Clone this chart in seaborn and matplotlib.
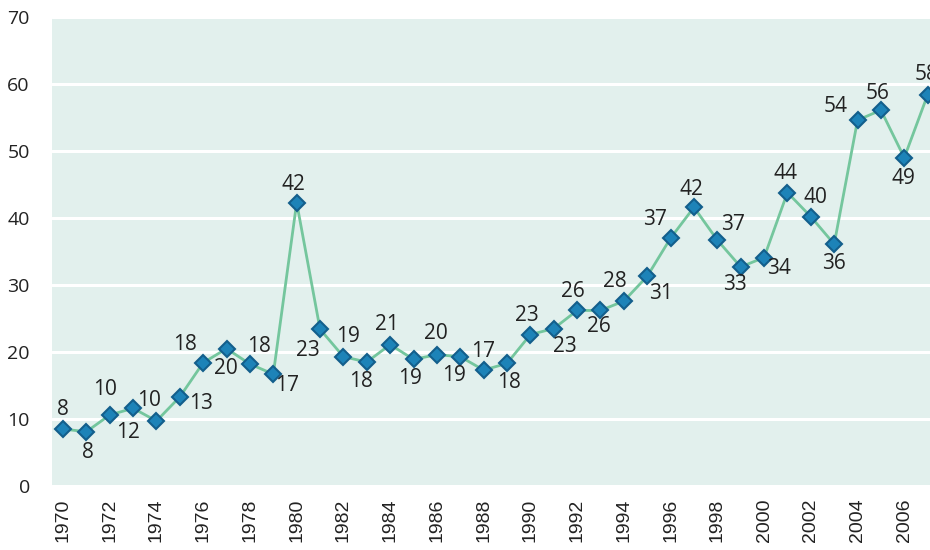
import numpy as np
import pandas as pd
import matplotlib
matplotlib.use("Agg")
import matplotlib.pyplot as plt
from matplotlib.font_manager import FontProperties
import seaborn as sns

# data
years = list(range(1970, 2008))
values = [8.5, 8.1, 10.6, 11.6, 9.7, 13.3, 18.4, 20.5, 18.2, 16.7,
          42.3, 23.4, 19.3, 18.5, 21.1, 18.9, 19.6, 19.3, 17.3, 18.3,
          22.6, 23.5, 26.2, 26.2, 27.6, 31.3, 37.0, 41.6, 36.7, 32.7,
          34.1, 43.8, 40.2, 36.1, 54.6, 56.1, 49.0, 58.4]
labels = [8, 8, 10, 12, 10, 13, 18, 20, 18, 17,
          42, 23, 19, 18, 21, 19, 20, 19, 17, 18,
          23, 23, 26, 26, 28, 31, 37, 42, 37, 33,
          34, 44, 40, 36, 54, 56, 49, 58]
tick_years = list(range(1970, 2007, 2))

# label offsets in pixels (dx, dy), style only
offsets = [(0, 20), (2, -21), (-5, 25), (-5, -24), (-7, 21), (21, -7),
           (-18, 18), (-1, -20), (9, 18), (14, -11), (-3, 18), (-12, -21),
           (5, 20), (-6, -19), (-3, 20), (-4, -19), (-1, 21), (-6, -19),
           (-1, 19), (2, -19), (-4, 19), (11, -18), (-4, 19), (-2, -16),
           (-9, 20), (14, -17), (-16, 19), (-3, 18), (16, 16), (-6, -18),
           (15, -11), (-2, 19), (5, 19), (0, -19), (-22, 14), (-3, 17),
           (-1, -21), (-1, 20)]

df = pd.DataFrame({"year": years, "value": values})

sns.set_theme(style="white")
plt.rcParams["font.family"] = ["Open Sans", "DejaVu Sans"]

fig = plt.figure(figsize=(9.3, 5.5), dpi=100)
ax = fig.add_axes([52 / 930, 64 / 550, 1 - 52 / 930, (486 - 17) / 550])
ax.set_facecolor("#e2f0ed")

sns.lineplot(data=df, x="year", y="value", ax=ax, color="#74c69d",
             linewidth=2, marker="D", markersize=8.5,
             markerfacecolor="#1d83b8", markeredgecolor="#135f8c",
             markeredgewidth=1.5)

for x, y, lab, (dx, dy) in zip(years, values, labels, offsets):
    ax.annotate(str(lab), (x, y), xytext=(dx * 0.72, dy * 0.72),
                textcoords="offset points", ha="center", va="center",
                fontsize=15, color="#222222")

ax.set_xlim(1969.53, 2007.1)
ax.set_ylim(0, 70)
ax.set_yticks(range(0, 71, 10))
ax.set_yticklabels([str(v) for v in range(0, 71, 10)], fontsize=14,
                   color="#222222")
xfont = FontProperties(family="Liberation Sans", size=14)
ax.set_xticks(tick_years)
ax.set_xticklabels([str(y) for y in tick_years], rotation=90,
                   fontproperties=xfont, color="#222222", va="top")
ax.tick_params(axis="y", pad=16, length=0)
ax.tick_params(axis="x", pad=9, length=0)
ax.grid(axis="y", color="white", linewidth=2.2)
ax.grid(axis="x", visible=False)
ax.set_axisbelow(True)
for s in ax.spines.values():
    s.set_visible(False)
ax.set_xlabel("")
ax.set_ylabel("")

fig.savefig("out.png", dpi=100)
